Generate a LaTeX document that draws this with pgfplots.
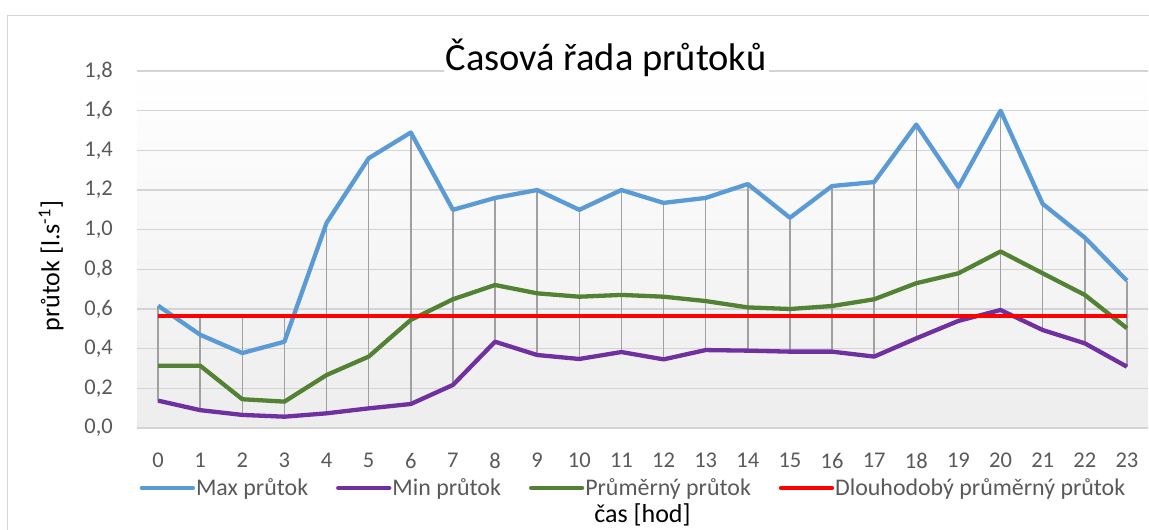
\documentclass[border=0pt]{standalone}
\usepackage{fontspec}
\setmainfont{Carlito}
\usepackage{pgfplots}
\pgfplotsset{compat=1.18}
\usepackage{pgfplotstable}
\definecolor{cmax}{HTML}{5B9BD5}
\definecolor{cmin}{HTML}{7030A0}
\definecolor{cavg}{HTML}{548235}
\definecolor{tickgray}{HTML}{595959}
\definecolor{gridgray}{HTML}{D4D4D4}
\definecolor{hlgray}{HTML}{A0A0A0}
\definecolor{bglow}{HTML}{EDEDED}
\pgfplotstableread{
x max min avg hi
0 0.617 0.138 0.314 0.617
1 0.470 0.090 0.314 0.566
2 0.378 0.066 0.145 0.566
3 0.435 0.057 0.133 0.566
4 1.034 0.074 0.267 1.034
5 1.360 0.099 0.360 1.360
6 1.490 0.121 0.545 1.490
7 1.100 0.217 0.649 1.100
8 1.160 0.435 0.721 1.160
9 1.200 0.368 0.679 1.200
10 1.100 0.348 0.662 1.100
11 1.200 0.383 0.671 1.200
12 1.135 0.346 0.662 1.135
13 1.160 0.393 0.640 1.160
14 1.230 0.390 0.608 1.230
15 1.060 0.385 0.600 1.060
16 1.220 0.385 0.615 1.220
17 1.240 0.360 0.649 1.240
18 1.530 0.452 0.730 1.530
19 1.215 0.540 0.780 1.215
20 1.600 0.595 0.890 1.600
21 1.130 0.494 0.780 1.130
22 0.960 0.427 0.671 0.960
23 0.743 0.309 0.503 0.743
}\data
\begin{document}
\begin{tikzpicture}
\useasboundingbox (-137bp,-102bp) rectangle (1012bp,428bp);
\draw[gridgray, line width=1bp] (-129.5bp,-102bp) -- (-129.5bp,412.5bp) -- (1012bp,412.5bp);
\begin{axis}[
  at={(0,0)}, anchor=south west, scale only axis,
  width=1011bp, height=357bp,
  xmin=-0.5, xmax=23.5, ymin=0, ymax=1.8,
  xtick={0,...,23},
  ytick={0,0.2,0.4,0.6,0.8,1.0,1.2,1.4,1.6,1.8},
  axis line style={draw=none},
  tick style={draw=none},
  ymajorgrids, grid style={gridgray, line width=1.5bp},
  axis background/.style={shade, top color=white, bottom color=bglow},
  ticklabel style={font=\fontsize{22.5bp}{26bp}\selectfont, text=tickgray, inner sep=0pt,
    /pgf/number format/assume math mode=true},
  yticklabel style={/pgf/number format/.cd, fixed, fixed zerofill, precision=1, use comma},
  xticklabel shift=25bp, yticklabel shift=24bp,
  title={Časová řada průtoků},
  title style={at={(axis description cs:0.464,1.02)}, anchor=center,
    font=\fontsize{38.5bp}{42bp}\selectfont, fill=white, inner sep=2bp},
  xlabel={čas [hod]},
  xlabel style={at={(axis description cs:0.5,-0.244)}, anchor=center,
    font=\fontsize{26bp}{30bp}\selectfont},
  ylabel={průtok [l.s\textsuperscript{-1}]},
  ylabel style={at={(axis description cs:-0.085,0.454)}, anchor=center,
    font=\fontsize{26bp}{30bp}\selectfont},
  legend columns=4,
  legend style={at={(axis description cs:0.4906,-0.168)}, anchor=center,
    draw=none, fill=none, font=\fontsize{23.9bp}{27bp}\selectfont, text=tickgray,
    /tikz/every even column/.append style={column sep=27bp},
    nodes={inner sep=1bp}},
  legend image code/.code={\draw[#1, line cap=round] (0bp,0bp) -- (51bp,0bp);},
  every axis plot/.append style={line join=round},
]
\addplot[draw=none, mark=none, forget plot,
  error bars/.cd, y dir=plus, y explicit,
  error bar style={draw=hlgray, line width=1.6bp}, error mark=none]
  table[x=x, y=min, y error expr=\thisrow{hi}-\thisrow{min}] {\data};
\addplot[cmax, line width=4.3bp, mark=none] table[x=x, y=max] {\data};
\addlegendentry{Max průtok}
\addplot[cmin, line width=4.3bp, mark=none] table[x=x, y=min] {\data};
\addlegendentry{Min průtok}
\addplot[cavg, line width=4.3bp, mark=none] table[x=x, y=avg] {\data};
\addlegendentry{Průměrný průtok}
\addplot[red, line width=4.3bp, mark=none] coordinates {(0,0.566) (23,0.566)};
\addlegendentry{Dlouhodobý průměrný průtok}
\end{axis}
\end{tikzpicture}
\end{document}
